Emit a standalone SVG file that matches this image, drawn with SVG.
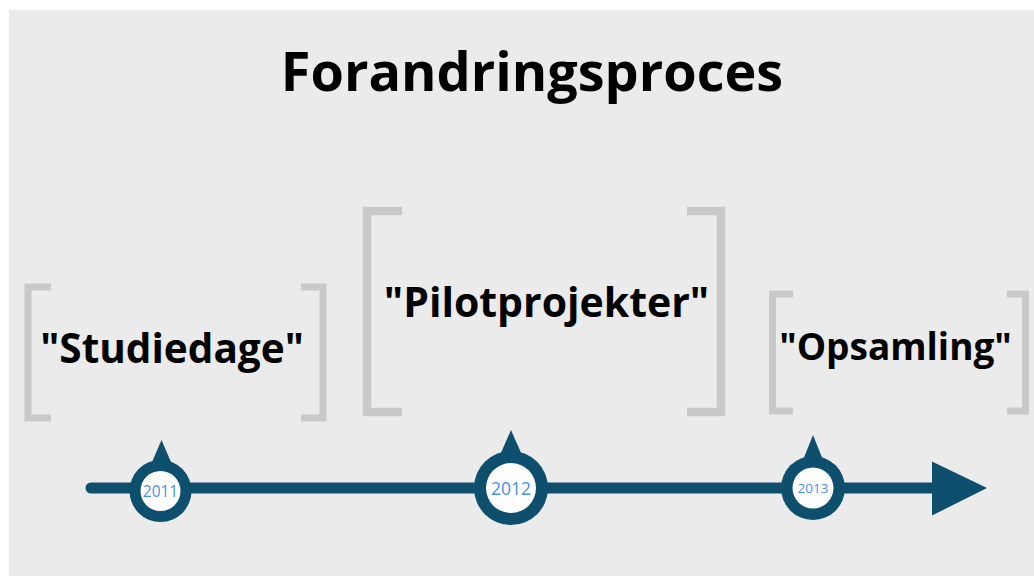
<svg xmlns="http://www.w3.org/2000/svg" width="1034" height="576" viewBox="0 0 1034 576">
  <style>
    .bg { fill: #ebebeb; }
    .bracket { fill: none; stroke: #c9c9c9; stroke-linecap: butt; stroke-linejoin: miter; }
    .label { font-family: "Open Sans", "Liberation Sans", sans-serif; font-weight: 700; fill: #000; text-anchor: middle; }
    .line { stroke: #0e4f6e; stroke-width: 11; stroke-linecap: round; fill: none; }
    .ring { fill: #0e4f6e; }
    .inner { fill: #ffffff; }
    .year { font-family: "Open Sans", "Liberation Sans", sans-serif; fill: #4a8fe7; text-anchor: middle; }
  </style>
  <rect class="bg" x="9" y="10" width="1025" height="566"/>
  <text class="label" x="532" y="91" font-size="54">Forandringsproces</text>

  <g id="node-studiedage">
    <path class="bracket" stroke-width="7" d="M51,287 H28 V418 H51"/>
    <path class="bracket" stroke-width="7" d="M301,287 H323 V418 H301"/>
    <text class="label" x="172" y="363" font-size="40.5">"Studiedage"</text>
  </g>

  <g id="node-pilotprojekter">
    <path class="bracket" stroke-width="8.5" d="M402,211 H367 V412 H402"/>
    <path class="bracket" stroke-width="8.5" d="M687,211 H721 V412 H687"/>
    <text class="label" x="546.5" y="317" font-size="41">"Pilotprojekter"</text>
  </g>

  <g id="node-opsamling">
    <path class="bracket" stroke-width="7" d="M793,294 H772.5 V411 H793"/>
    <path class="bracket" stroke-width="7" d="M1007,294 H1025.5 V411 H1007"/>
    <text class="label" x="895.5" y="360" font-size="37">"Opsamling"</text>
  </g>

  <g id="connectors">
    <line class="line" x1="91" y1="488" x2="935" y2="488"/>
    <polygon class="ring" points="932,461.5 987,488 932,515.5"/>
  </g>

  <g id="node-2011">
    <polygon class="ring" points="161.5,440 152,462 171,462"/>
    <circle class="ring" cx="160.5" cy="491" r="31"/>
    <circle class="inner" cx="160.5" cy="491" r="20"/>
    <text class="year" x="160.5" y="496.5" font-size="15.5">2011</text>
  </g>

  <g id="node-2012">
    <polygon class="ring" points="511,430 500,455 522,455"/>
    <circle class="ring" cx="511" cy="488" r="37"/>
    <circle class="inner" cx="511" cy="488" r="25"/>
    <text class="year" x="511" y="494.5" font-size="17.5">2012</text>
  </g>

  <g id="node-2013">
    <polygon class="ring" points="813,435 803,460 823,460"/>
    <circle class="ring" cx="813" cy="488" r="32"/>
    <circle class="inner" cx="813" cy="488" r="20.5"/>
    <text class="year" x="813" y="493" font-size="13.5">2013</text>
  </g>
</svg>
